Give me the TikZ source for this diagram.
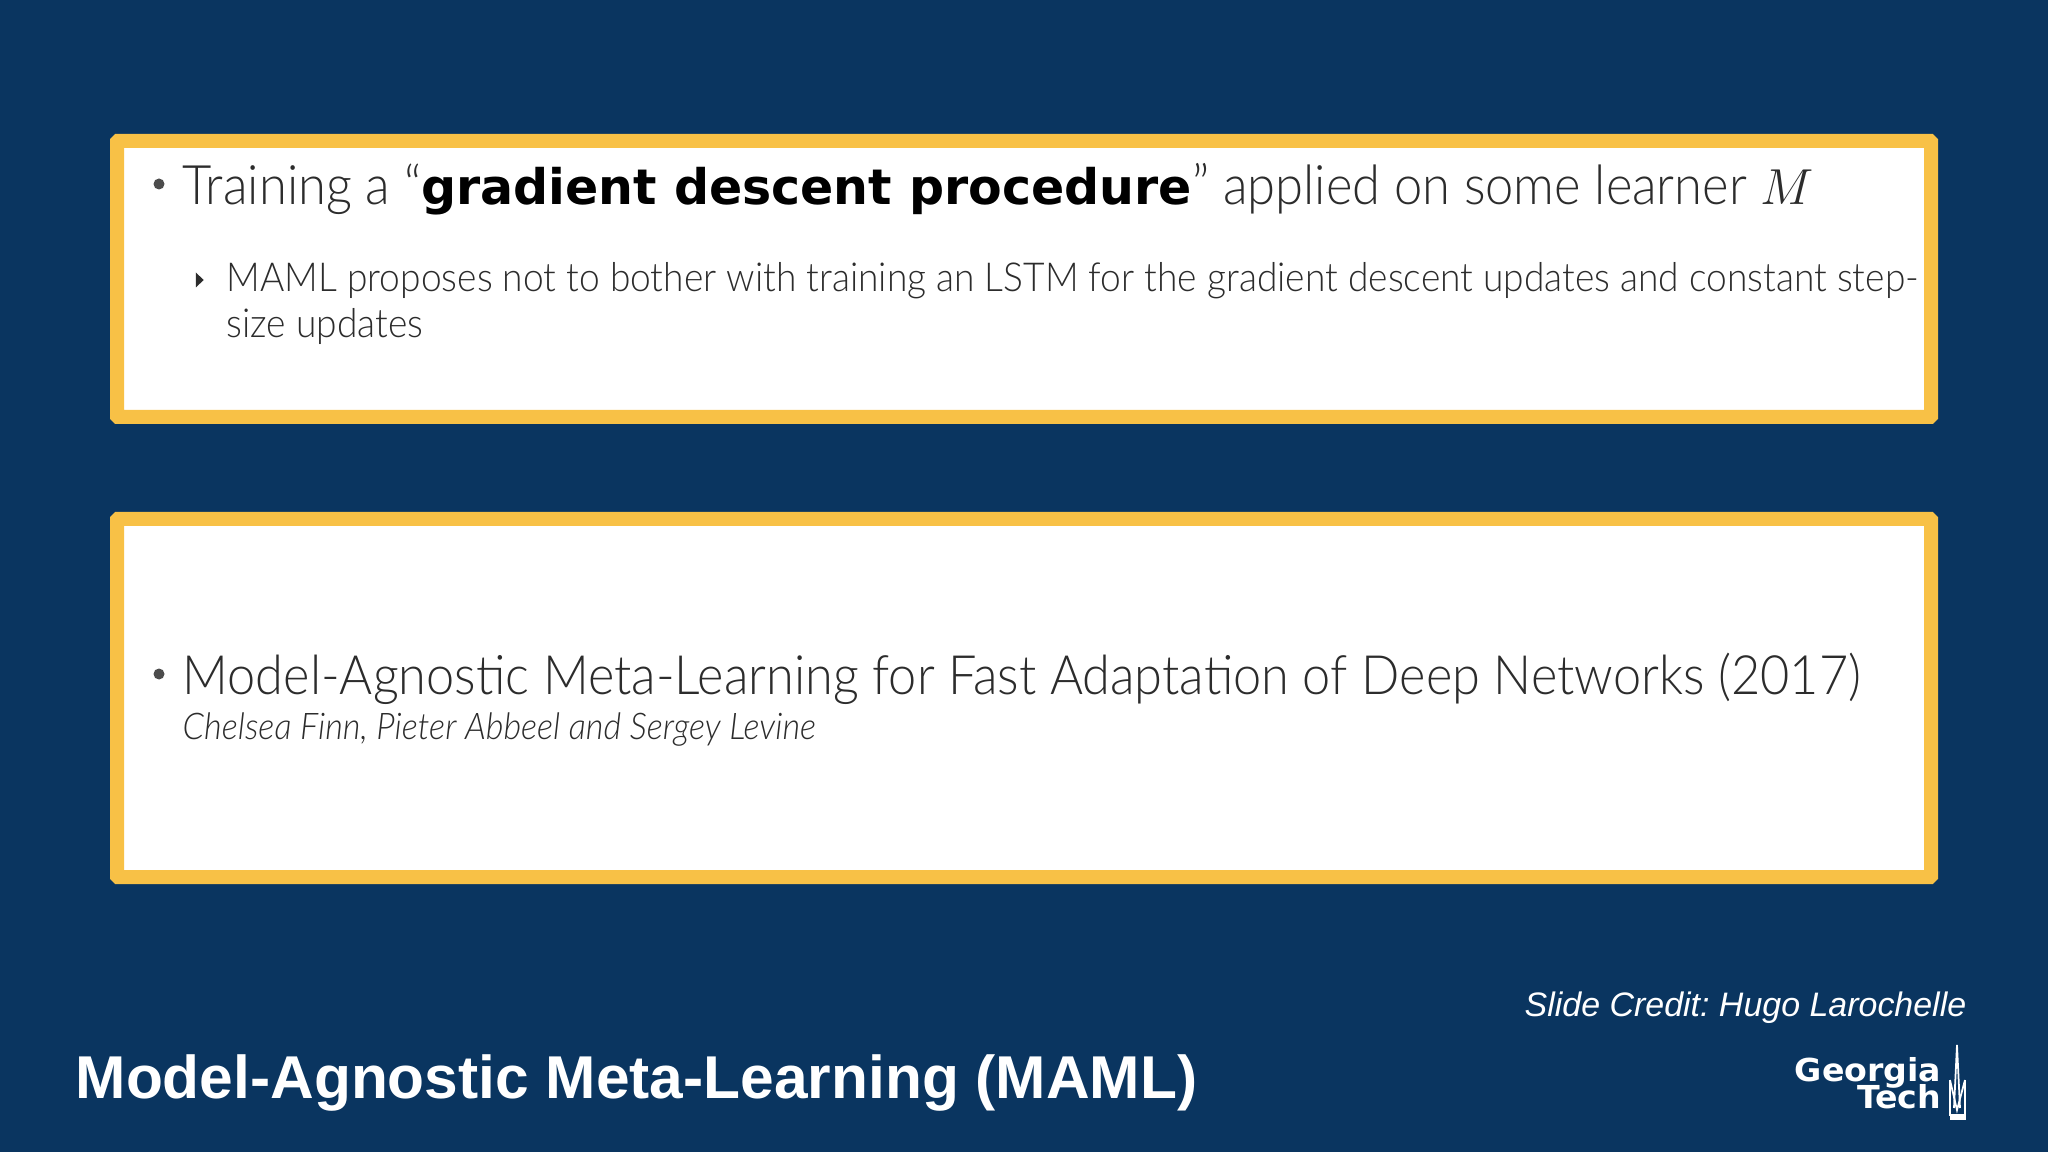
\documentclass[tikz,border=0pt]{standalone}
\usepackage{fontspec}
\setmainfont{Liberation Sans}
\newfontfamily\slidefont[FakeStretch=0.93]{Lato Light}
\newfontfamily\boldfont{DejaVu Sans}
\newfontfamily\logofont[FakeStretch=1.05]{DejaVu Sans}
\usepackage{xcolor}
\usepackage{amsmath}
\usetikzlibrary{positioning,shapes.geometric}
\definecolor{slideblue}{HTML}{0A3560}
\definecolor{framegold}{HTML}{F8C146}
\definecolor{textgrey}{HTML}{2C2C2C}
\frenchspacing
\tikzset{
    framebox/.style={draw=framegold, fill=white, line width=0.14cm, rounded corners=0.01cm, minimum width=18.14cm},
    slidetext/.style={anchor=base west, inner sep=0pt, text=textgrey, font=\slidefont},
    bulletdot/.style={circle, fill=textgrey!85, inner sep=0pt, minimum size=0.11cm},
    logotext/.style={anchor=base east, inner sep=0pt, text=white, font=\logofont\fontsize{9}{9}\selectfont\bfseries}
}
\begin{document}
\begin{tikzpicture}
    \useasboundingbox (0,0) rectangle (20.48,-11.52);
    \fill[slideblue] (0,0) rectangle (20.48,-11.52);

    % Upper frame
    \node[framebox, minimum height=2.76cm] (upper) at (10.24,-2.79) {};
    \node[bulletdot] (dotone) at (1.59,-1.84) {};
    \node[slidetext, font=\slidefont\fontsize{15.5}{18}\selectfont] (training) at (1.82,-2.05) {Training a “{\boldfont\bfseries\color{black}\fontsize{13.95}{18}\selectfont gradient descent procedure}” applied on some learner $M$};
    \node[isosceles triangle, fill=textgrey, inner sep=0pt, minimum height=0.08cm, minimum width=0.15cm, isosceles triangle stretches] (arrowtip) at (1.99,-2.80) {};
    \node[slidetext, font=\slidefont\fontsize{11.36}{14}\selectfont] (proposes) at (2.26,-2.92) {MAML proposes not to bother with training an LSTM for the gradient descent updates and constant step-};
    \node[slidetext, font=\slidefont\fontsize{11.36}{14}\selectfont] (sizeup) at (2.26,-3.38) {size updates};

    % Lower frame
    \node[framebox, minimum height=3.58cm] (lower) at (10.24,-6.98) {};
    \node[bulletdot] (dottwo) at (1.59,-6.74) {};
    \node[slidetext, font=\slidefont\fontsize{15.44}{18}\selectfont] (paper) at (1.82,-6.94) {Model-Agnostic Meta-Learning for Fast Adaptation of Deep Networks (2017)};
    \node[slidetext, font=\slidefont\itshape\fontsize{10.46}{13}\selectfont] (authors) at (1.82,-7.40) {Chelsea Finn, Pieter Abbeel and Sergey Levine};

    % Footer
    \node[anchor=base west, inner sep=0pt, text=white, font=\fontsize{17.2}{20}\selectfont\bfseries] (title) at (0.75,-10.98) {Model-Agnostic Meta-Learning (MAML)};
    \node[anchor=base east, inner sep=0pt, text=white, font=\fontsize{9.66}{12}\selectfont\itshape] (credit) at (19.67,-10.16) {Slide Credit: Hugo Larochelle};
    \node[logotext] (georgia) at (19.42,-10.81) {Georgia};
    \node[logotext] (tech) at (19.42,-11.08) {Tech};

    % Spire next to the logo
    \draw[white, line width=0.5pt] (19.54,-11.08) -- (19.57,-10.45) -- (19.60,-11.08);
    \draw[white, line width=0.5pt] (19.50,-10.80) -- (19.50,-11.15) -- (19.65,-11.15) -- (19.65,-10.80);
    \draw[white, line width=0.5pt] (19.50,-10.80) -- (19.57,-11.10) -- (19.65,-10.80);
    \fill[white] (19.50,-11.15) rectangle (19.66,-11.20);
\end{tikzpicture}
\end{document}
